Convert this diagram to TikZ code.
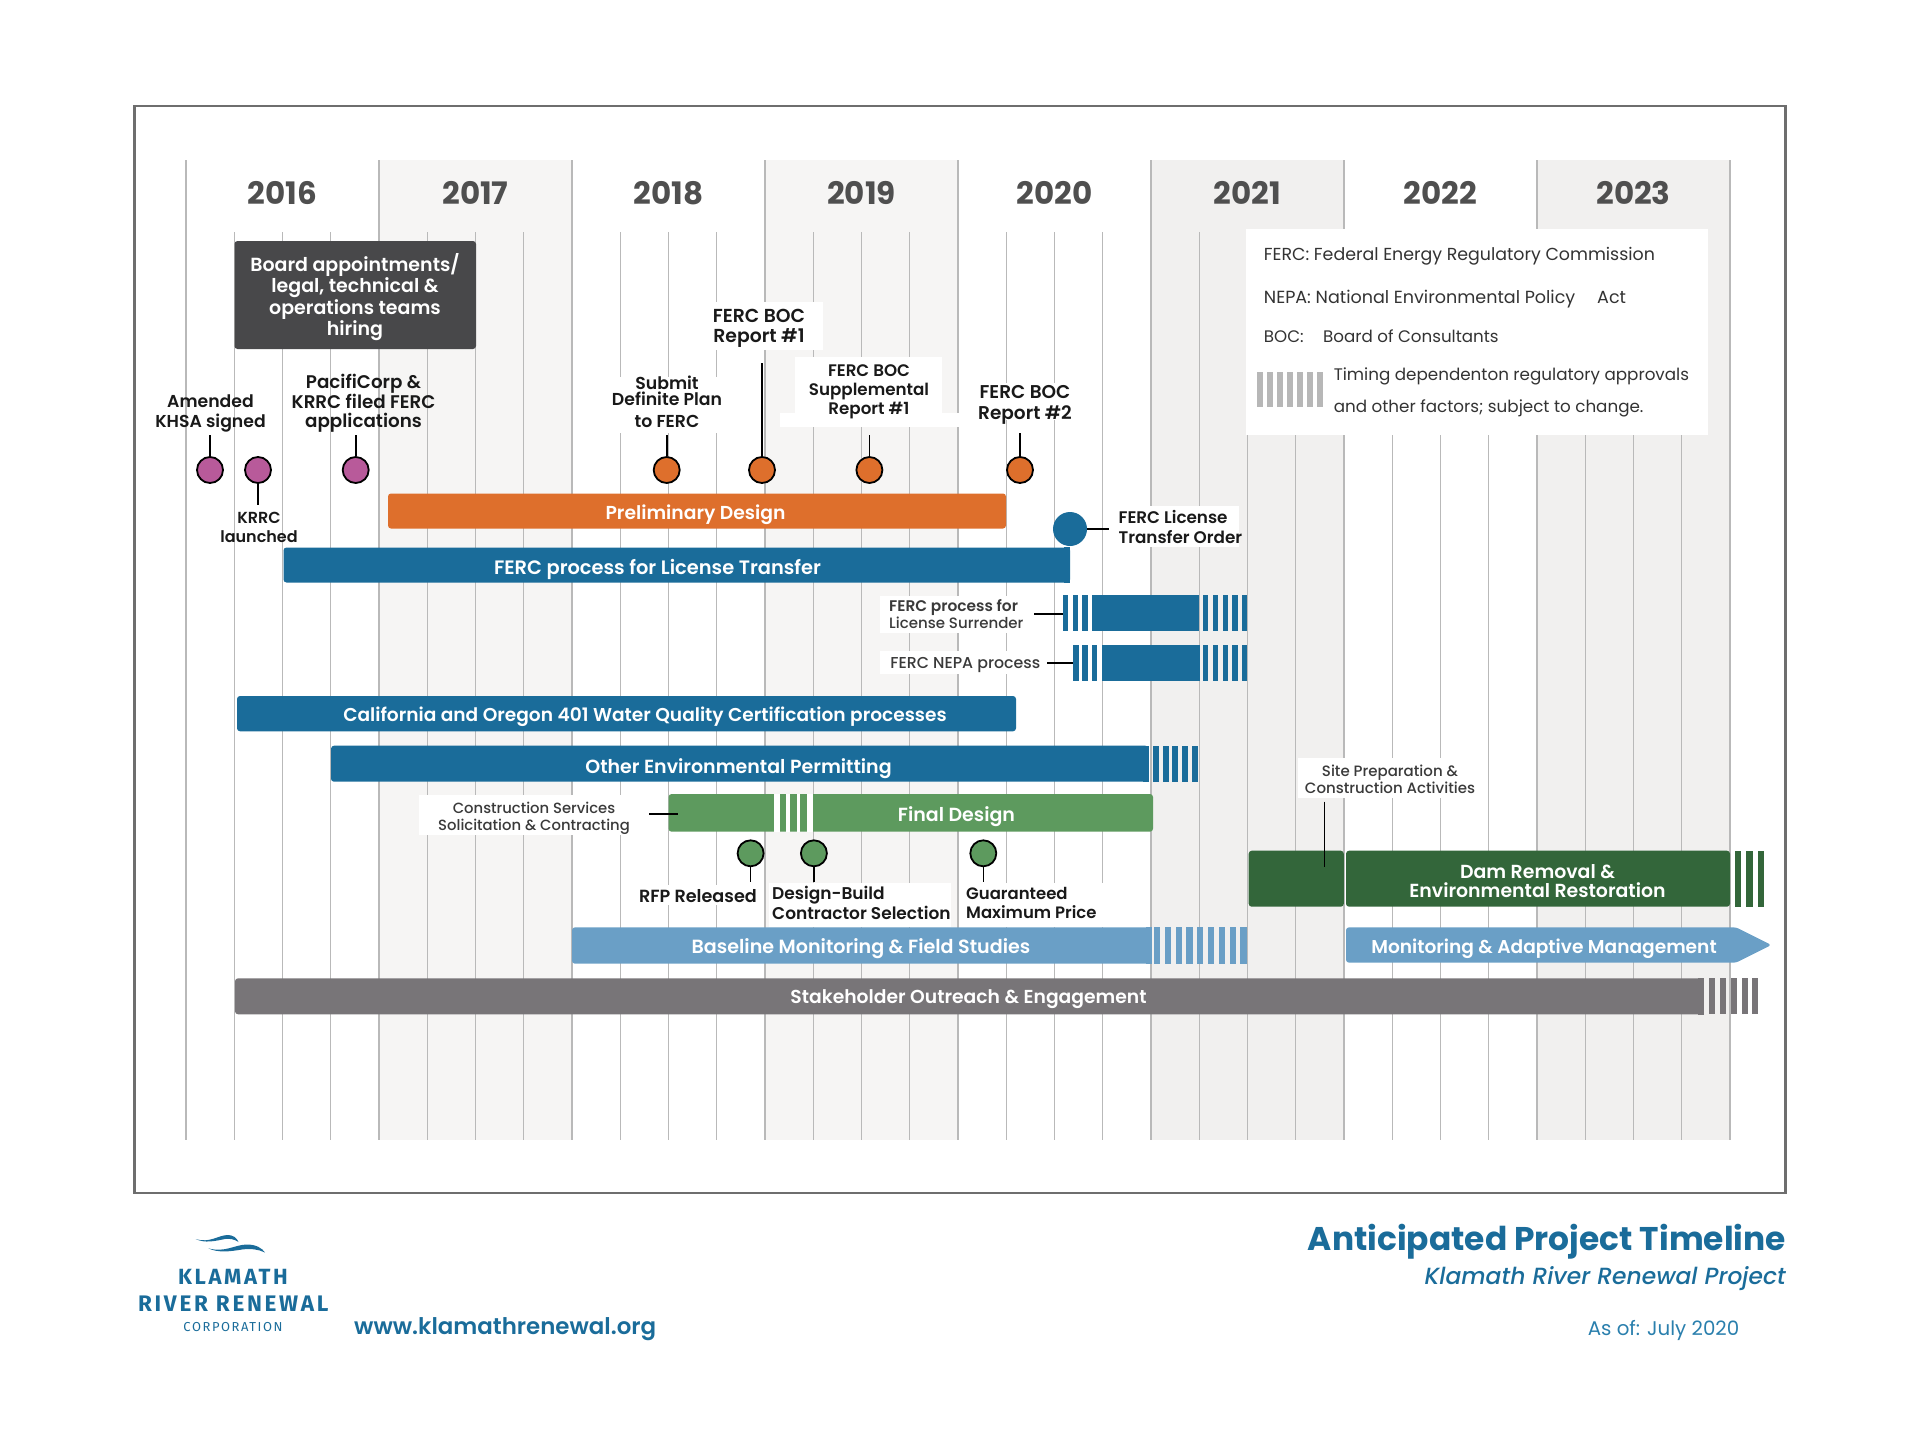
\documentclass[tikz,border=0pt]{standalone}
\usepackage{fontspec}
\setmainfont{Poppins}
\newfontfamily\semibf{Poppins SemiBold}
\newfontfamily\medf{Poppins Medium}
\newfontfamily\medit{Poppins Medium Italic}
\newfontfamily\logofont[LetterSpace=12]{Fira Sans}
\usetikzlibrary{fit}
\definecolor{bandA}{HTML}{F6F5F4}
\definecolor{bandB}{HTML}{F1F0EF}
\definecolor{gridc}{HTML}{B9B9B9}
\definecolor{framec}{HTML}{6E6E6E}
\definecolor{yearc}{HTML}{4F4F4F}
\definecolor{boardc}{HTML}{48484A}
\definecolor{purplec}{HTML}{B85A9A}
\definecolor{orangec}{HTML}{DE6F2C}
\definecolor{bluec}{HTML}{1A6C9A}
\definecolor{greenc}{HTML}{5D9A5E}
\definecolor{darkgreenc}{HTML}{33663A}
\definecolor{lightbluec}{HTML}{6A9FC6}
\definecolor{grayc}{HTML}{787578}
\definecolor{stripec}{HTML}{B7B7B7}
\definecolor{inkc}{HTML}{3A3A3A}
\definecolor{asofc}{HTML}{2A7FAD}
\tikzset{
  yeartext/.style={font=\bfseries\fontsize{31}{32}\selectfont, text=yearc, inner sep=0pt},
  bar/.style={inner sep=0pt, rounded corners=3pt},
  bartext/.style={font=\semibf\fontsize{#1}{20}\selectfont, text=white, inner sep=0pt, align=center, yshift=-2.5pt},
  bartext/.default=18.9,
  mile/.style={circle, draw=black, line width=1.8pt, minimum size=26pt, inner sep=0pt},
  stem/.style={line width=1.6pt, black},
  boldlab/.style n args={2}{font=\semibf\fontsize{#1}{#2}\selectfont, text=black!90, inner sep=0pt, align=center, yshift=-2pt},
  smalllab/.style={font=\medf\fontsize{#1}{17}\selectfont, text=inkc, inner sep=0pt, align=center, yshift=-1.2pt},
  legendtext/.style={font=\fontsize{#1}{18}\selectfont, text=black!80, inner sep=0pt, anchor=base west},
}
\begin{document}
\begin{tikzpicture}[x=1pt,y=-1pt]
\useasboundingbox (0,0) rectangle (1920,1440);
% year bands and grid
\foreach \i/\c in {1/bandA,3/bandA,5/bandB,7/bandB} {
  \fill[\c] ({186+193*\i},160) rectangle ++(193,980);
}
\foreach \q in {1,...,31} {
  \draw[gridc, line width=1.2pt] ({186+48.25*\q},232) -- ({186+48.25*\q},1140);
}
\foreach \i in {0,...,8} {
  \draw[gridc, line width=1.5pt] ({186+193*\i},160) -- ({186+193*\i},1140);
}
\foreach \yr [count=\i from 0] in {2016,...,2023} {
  \node[yeartext] (y\yr) at ({282.5+193*\i},193) {\yr};
}
\draw[framec, line width=2.5pt] (134.5,106) rectangle (1785.5,1193);

% white patches behind labels
\fill[white] (1246,229) rectangle (1707.5,435);
\fill[white] (714,302) rectangle (823,350);
\fill[white] (795,357) rectangle (942,417);
\fill[white] (780,413) rectangle (960,427);
\fill[white] (612,377) rectangle (724,433);
\fill[white] (976,383) rectangle (1074,420);
\fill[white] (1115,506) rectangle (1239,547);
\fill[white] (880,596) rectangle (1030,633);
\fill[white] (880,651) rectangle (1043,674);
\fill[white] (418.5,795) rectangle (621,835);
\fill[white] (1298,758) rectangle (1475,798);
\fill[white] (639,885) rectangle (759,905);
\fill[white] (769,883) rectangle (951,927);
\fill[white] (963,883) rectangle (1103,927);

% board box
\node[bar, fill=boardc, fit={(234.5,241) (476,349)}] (board) {};
\node[bartext=19, font=\semibf\fontsize{19}{21.2}\selectfont, yshift=1.5pt] (boardt) at (355,296) {Board appointments/\\legal, technical \&\\operations teams\\hiring};

% bars
\node[bar, fill=orangec, fit={(388,493.5) (1006,528.5)}] (prelim) {};
\node[bartext=18.75] (prelimt) at (695.5,512) {Preliminary Design};
\node[bar, fill=bluec, fit={(283.5,547.5) (1070,582.5)}] (transfer) {};
\fill[bluec] ([xshift=-6pt]transfer.north east) rectangle (transfer.south east);
\node[bartext=19.4] (transfert) at (657.5,566.5) {FERC process for License Transfer};
\fill[bluec] (1092.3,595.3) rectangle (1199.3,631);
\foreach \x in {1063,1072.7,1082.3,1203,1213,1222.7,1232.3,1242} {
  \fill[bluec] (\x,595.3) rectangle ++(5.4,35.7);
}
\fill[bluec] (1101.7,645) rectangle (1200,680.7);
\foreach \x in {1073.3,1082.3,1091.5,1203,1213,1222.7,1232.3,1242} {
  \fill[bluec] (\x,645) rectangle ++(5.4,35.7);
}
\node[bar, fill=bluec, fit={(237,696) (1016,731.3)}] (calif) {};
\node[bartext=18.6] (califot) at (645,714.5) {California and Oregon 401 Water Quality Certification processes};
\node[bar, fill=bluec, fit={(331,745.7) (1148.3,781.7)}] (otherenv) {};
\fill[bluec] ([xshift=-6pt]otherenv.north east) rectangle (otherenv.south east);
\node[bartext=19] (otherenvt) at (738.5,766) {Other Environmental Permitting};
\foreach \x in {1153.3,1162.7,1172.3,1182,1191.7} {
  \fill[bluec] (\x,745.7) rectangle ++(6,36);
}
% final design
\node[bar, fill=greenc, fit={(668.6,794) (1153,831.7)}] (final) {};
\foreach \x/\w in {773.5/6.1,786/3.8,796.7/3.7,807.3/5.7} {
  \fill[white] (\x,794) rectangle ++(\w,37.7);
}
\node[bartext=19] (finalt) at (956.5,814.5) {Final Design};
% dam removal
\node[bar, fill=darkgreenc, fit={(1248.7,850.7) (1343.8,906.7)}] (siteprep) {};
\node[bar, fill=darkgreenc, fit={(1346,850.7) (1730,906.7)}] (dam) {};
\node[bartext, font=\semibf\fontsize{18.9}{19.3}\selectfont] (damt) at (1537.5,878.5) {Dam Removal \&\\Environmental Restoration};
\foreach \x in {1735,1746.4,1758} {
  \fill[darkgreenc] (\x,850.7) rectangle ++(6.2,56);
}
% monitoring
\node[bar, fill=lightbluec, fit={(572,927.3) (1151.5,963.7)}] (baseline) {};
\fill[lightbluec] ([xshift=-6pt]baseline.north east) rectangle (baseline.south east);
\node[bartext=19.1] (baselinet) at (861,946.5) {Baseline Monitoring \& Field Studies};
\foreach \x in {1154,1164.8,1175.6,1186.4,1197.2,1208,1218.8,1229.6,1240.4} {
  \fill[lightbluec] (\x,927.3) rectangle ++(6.2,36.4);
}
\fill[lightbluec, rounded corners=3pt] (1346,927.3) -- (1736,927.3) -- (1771.4,945) -- (1736,962.7) -- (1346,962.7) -- cycle;
\node[bartext=18.6] (adaptive) at (1544,946.5) {Monitoring \& Adaptive Management};
% outreach
\node[bar, fill=grayc, fit={(235,978.3) (1703.6,1014.3)}] (outreach) {};
\fill[grayc] ([xshift=-6pt]outreach.north east) rectangle (outreach.south east);
\node[bartext=18.75] (outreacht) at (968.5,997) {Stakeholder Outreach \& Engagement};
\foreach \x in {1709.4,1720,1730.8,1741.5,1751.8} {
  \fill[grayc] (\x,978.3) rectangle ++(6,36);
}

% milestones
\foreach \nm/\x/\y/\ytip/\c in {khsa/210/470/435/purplec, krrc/258/470/505/purplec, filed/355.7/470/435/purplec, plan/666.7/470/435/orangec, rone/762/470/363/orangec, supp/869.4/470/435/orangec, rtwo/1020/470/433/orangec, rfp/750.6/853.3/881.7/greenc, build/813.9/853.3/881.7/greenc, price/983.3/853.3/881.7/greenc} {
  \coordinate (t\nm) at (\x,\ytip);
  \node[mile, fill=\c] (m\nm) at (\x,\y) {};
  \draw[stem] (m\nm) -- (t\nm);
}
\node[circle, fill=bluec, minimum size=34pt, inner sep=0pt] (order) at (1070,529) {};
\coordinate (orderend) at (1109,529);
\draw[stem] (order) -- (orderend);

% milestone labels
\node[boldlab={17.25}{19.3}] (lkhsa) at (210.5,411.5) {Amended\\KHSA signed};
\node[boldlab={16}{19.3}] (lkrrc) at (259,525.5) {KRRC\\launched};
\node[boldlab={18.3}{19}] (lfiled) at (363.5,401.2) {PacifiCorp \&\\KRRC filed FERC\\applications};
\node[boldlab={17.3}{15.8}] (lplan) at (667,400) {Submit\\Definite Plan\\[6.5pt]to FERC};
\node[boldlab={18.8}{20.3}] (lrone) at (759,326) {FERC BOC\\Report \#1};
\node[boldlab={16.7}{19.2}] (lsupp) at (869,389.5) {FERC BOC\\Supplemental\\Report \#1};
\node[boldlab={18.5}{20.3}] (lrtwo) at (1025,403) {FERC BOC\\Report \#2};
\node[boldlab={16.8}{20.5}, align=left, anchor=west] (lorder) at (1118.4,525) {FERC License\\Transfer Order};
\node[boldlab={17.6}{19}, anchor=east] (lrfp) at (757,893.8) {RFP Released};
\node[boldlab={17}{19.4}, align=left, anchor=west] (lbuild) at (772,901) {Design-Build\\Contractor Selection};
\node[boldlab={16.5}{19.4}, align=left, anchor=west] (lprice) at (966,901) {Guaranteed\\Maximum Price};

% small labels with leaders
\node[smalllab=15, align=left, anchor=west] (lsurr) at (889,613) {{\semibf\fontsize{15.4}{17}\selectfont FERC process for}\\License Surrender};
\coordinate (lsurrs) at (1034,614);
\coordinate (lsurre) at (1063,614);
\draw[stem] (lsurrs) -- (lsurre);
\node[smalllab=15.8, anchor=east] (lnepa) at (1040.5,664) {FERC NEPA process};
\coordinate (lnepas) at (1047.3,663);
\coordinate (lnepae) at (1073,663);
\draw[stem] (lnepas) -- (lnepae);
\node[smalllab=14.8] (lconst) at (534,817) {Construction Services\\Solicitation \& Contracting};
\coordinate (lconsts) at (649,814);
\coordinate (lconste) at (677.6,814);
\draw[stem] (lconsts) -- (lconste);
\node[smalllab=15] (lsite) at (1390,778) {Site Preparation \&\\Construction Activities};
\coordinate (lsites) at (1324.5,801.7);
\coordinate (lsitee) at (1324.5,866.7);
\draw[black, line width=1.2pt] (lsites) -- (lsitee);

% legend
\node[legendtext=17.4] (lega) at (1263.7,260.5) {FERC: Federal Energy Regulatory Commission};
\node[legendtext=17.55] (legb) at (1263.7,303) {NEPA: National Environmental Policy};
\node[legendtext=17.55] (legbb) at (1597,303) {Act};
\node[legendtext=16.7] (legc) at (1263.7,342.8) {BOC:};
\node[legendtext=16.7] (legcc) at (1323,342.8) {Board of Consultants};
\foreach \x in {0,...,6} {
  \fill[stripec] ({1256.5+10.1*\x},371.7) rectangle ++(6,35);
}
\node[legendtext=16.75] (legd) at (1333.6,380) {Timing dependenton regulatory approvals};
\node[legendtext=16.75] (lege) at (1333.6,412.5) {and other factors; subject to change.};

% footer
\begin{scope}[bluec]
\fill (195.7,1239) .. controls (210,1243.5) and (218,1235) .. (228,1235) .. controls (233,1235) and (237,1238) .. (238.5,1242) .. controls (234,1239) and (230,1238.5) .. (225,1239) .. controls (215,1241) and (205,1243.5) .. (195.7,1239) -- cycle;
\fill (208.3,1248.3) .. controls (225,1253) and (235,1244.5) .. (247,1244.5) .. controls (256,1244.5) and (262,1248) .. (265,1252.5) .. controls (258,1249) and (250,1248.5) .. (242,1249.5) .. controls (230,1251.5) and (218,1253) .. (208.3,1248.3) -- cycle;
\end{scope}
\node[text=bluec, inner sep=0pt, font=\logofont\bfseries\fontsize{22}{24}\selectfont] (klamath) at (233,1277) {KLAMATH};
\node[text=bluec, inner sep=0pt, font=\logofont\bfseries\fontsize{22.5}{24}\selectfont] (river) at (233.3,1304) {RIVER RENEWAL};
\node[text=bluec, inner sep=0pt, font=\logofont\fontsize{13}{14}\selectfont] (corp) at (233,1327.5) {CORPORATION};
\node[text=bluec, inner sep=0pt, anchor=west, font=\semibf\fontsize{22.9}{24}\selectfont] (web) at (354,1329.5) {www.klamathrenewal.org};
\node[text=bluec, inner sep=0pt, anchor=east, font=\bfseries\fontsize{32.85}{35}\selectfont] (title) at (1786,1241.5) {Anticipated Project Timeline};
\node[text=bluec, inner sep=0pt, anchor=east, font=\medit\fontsize{23.4}{25}\selectfont] (subtitle) at (1786,1278.5) {Klamath River Renewal Project};
\node[text=asofc, inner sep=0pt, anchor=east, font=\fontsize{19.8}{21}\selectfont] (asof) at (1739.5,1330) {As of: July 2020};
\end{tikzpicture}
\end{document}
